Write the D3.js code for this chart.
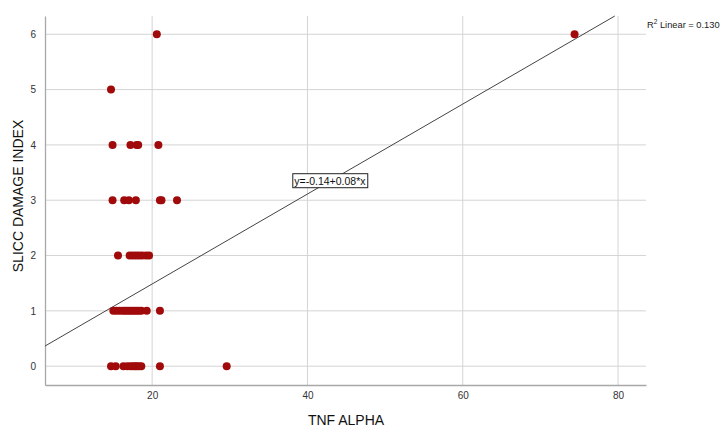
<!DOCTYPE html>
<html><head><meta charset="utf-8">
<script src="https://cdn.jsdelivr.net/npm/d3@7"></script>
<style>body{margin:0;background:#fff}svg{display:block;font-family:"Liberation Sans",Arial,sans-serif}</style>
</head><body><svg id="c" width="725" height="431"></svg>
<script>
const xTicks = [20, 40, 60, 80];
const yTicks = [0, 1, 2, 3, 4, 5, 6];
const tnf = [
  14.7, 15.3, 16.3, 16.8, 17.2, 17.5, 17.8, 18.0, 18.3, 18.6, 21.0, 29.6,
  15.0, 15.4, 15.8, 16.2, 16.5, 16.8, 17.1, 17.4, 17.7, 18.0, 18.3, 18.6, 19.3, 21.0,
  15.6, 17.1, 17.5, 17.9, 18.3, 18.7, 19.2, 19.6,
  14.9, 16.4, 17.0, 17.9, 21.0, 21.2, 23.2,
  14.9, 17.2, 18.0, 18.2, 20.8,
  14.7,
  20.6, 74.4
];
const slicc = [
  0,0,0,0,0,0,0,0,0,0,0,0,
  1,1,1,1,1,1,1,1,1,1,1,1,1,1,
  2,2,2,2,2,2,2,2,
  3,3,3,3,3,3,3,
  4,4,4,4,4,
  5,
  6,6
];
const intercept = -0.14, slope = 0.0813;
const eqLabel = "y=-0.14+0.08*x";
const r2Label = "Linear = 0.130";

const svg = d3.select("#c");
const L = 45, R = 646, T = 16, B = 385;
const x = d3.scaleLinear().domain([6.2, 83.6]).range([L, R]);
const y = d3.scaleLinear().domain([-0.34, 6.33]).range([B, T]);

// gridlines
svg.append("g").selectAll("line").data(yTicks).join("line")
  .attr("x1", L).attr("x2", R).attr("y1", d => y(d)).attr("y2", d => y(d))
  .attr("stroke", "#d4d4d4").attr("stroke-width", 1);
svg.append("g").selectAll("line").data(xTicks).join("line")
  .attr("y1", T).attr("y2", B).attr("x1", d => x(d)).attr("x2", d => x(d))
  .attr("stroke", "#d4d4d4").attr("stroke-width", 1);

// axes
const xa = svg.append("g").attr("transform", `translate(0,${B})`)
  .call(d3.axisBottom(x).tickValues(xTicks).tickSize(0).tickPadding(7).tickFormat(d3.format("d")));
const ya = svg.append("g").attr("transform", `translate(${L},0)`)
  .call(d3.axisLeft(y).tickValues(yTicks).tickSize(0).tickPadding(9).tickFormat(d3.format("d")));
[xa, ya].forEach(a => {
  a.select(".domain").attr("stroke", "#a8a8a8").attr("stroke-width", 1.3);
  a.selectAll("text").attr("font-size", 10).attr("fill", "#333").attr("font-family", "Liberation Sans, Arial, sans-serif");
});

// fit line, clipped to plot area
const x0 = x.domain()[0];
const x1 = (y.domain()[1] - intercept) / slope;
svg.append("line")
  .attr("x1", x(x0)).attr("y1", y(intercept + slope * x0))
  .attr("x2", x(x1)).attr("y2", y(intercept + slope * x1))
  .attr("stroke", "#444").attr("stroke-width", 1);

// points
svg.append("g").selectAll("circle").data(tnf.map((v, i) => [v, slicc[i]])).join("circle")
  .attr("cx", d => x(d[0])).attr("cy", d => y(d[1])).attr("r", 4)
  .attr("fill", "#a00a0a");

// equation label
const xm = (x0 + x1) / 2;
const lg = svg.append("g").attr("transform", `translate(${x(xm)},${y(intercept + slope * xm)})`);
const lt = lg.append("text").text(eqLabel).attr("font-size", 10.5).attr("fill", "#111")
  .attr("text-anchor", "middle").attr("dy", "0.35em");
const bb = lt.node().getBBox();
lg.insert("rect", "text").attr("x", bb.x - 1.5).attr("y", bb.y - 1).attr("width", bb.width + 3).attr("height", bb.height + 2)
  .attr("fill", "#fff").attr("stroke", "#222").attr("stroke-width", 1);

// R2 label
const rt = svg.append("text").attr("x", 647).attr("y", 28).attr("font-size", 9.3).attr("fill", "#222");
rt.append("tspan").text("R");
rt.append("tspan").text("2").attr("font-size", 6.5).attr("dy", -4);
rt.append("tspan").text(" " + r2Label).attr("dy", 4);

// axis titles
svg.append("text").attr("x", 346).attr("y", 425).attr("text-anchor", "middle")
  .attr("font-size", 14).attr("fill", "#111").text("TNF ALPHA");
svg.append("text").attr("transform", `translate(23,196) rotate(-90)`).attr("text-anchor", "middle")
  .attr("font-size", 14).attr("fill", "#111").text("SLICC DAMAGE INDEX");
</script></body></html>
